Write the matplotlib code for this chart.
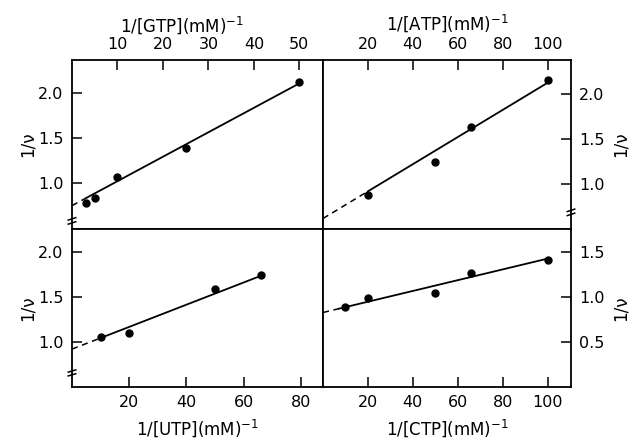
import matplotlib
matplotlib.use("Agg")
import matplotlib.pyplot as plt
import matplotlib.transforms as mtransforms
import numpy as np

plt.rcParams['font.family'] = ['DejaVu Sans']
plt.rcParams['mathtext.default'] = 'regular'

# reciprocal substrate concentration (mM^-1) and reciprocal velocity
gtp_x = [3, 5, 10, 25, 50]
gtp_y = [0.78, 0.83, 1.07, 1.39, 2.12]
atp_x = [20, 50, 66, 100]
atp_y = [0.88, 1.25, 1.64, 2.16]
utp_x = [10, 20, 50, 66]
utp_y = [1.05, 1.10, 1.585, 1.74]
ctp_x = [10, 20, 50, 66, 100]
ctp_y = [0.89, 0.99, 1.05, 1.27, 1.41]

# fitted lines: intercept, slope, start/end of the solid part
gtp_fit = (0.75, 0.0272, 3, 50)
atp_fit = (0.617, 0.0151, 20, 100)
utp_fit = (0.92, 0.0123, 10, 66)
ctp_fit = (0.83, 0.006, 7, 100)

W, H = 634, 441
fig = plt.figure(figsize=(W / 100, H / 100), dpi=100)


def box(x0, y0, x1, y1):
    return [x0 / W, 1 - y1 / H, (x1 - x0) / W, (y1 - y0) / H]


ax_g = fig.add_axes(box(72, 60, 323, 229))
ax_a = fig.add_axes(box(323, 60, 571, 229))
ax_u = fig.add_axes(box(72, 229, 323, 387))
ax_c = fig.add_axes(box(323, 229, 571, 387))

panels = [
    (ax_g, gtp_x, gtp_y, gtp_fit, (0, 55.2), (0.49, 2.37), [10, 20, 30, 40, 50], [1.0, 1.5, 2.0], 'GTP', 'top', 'left', 0.58),
    (ax_a, atp_x, atp_y, atp_fit, (0, 110.4), (0.50, 2.38), [20, 40, 60, 80, 100], [1.0, 1.5, 2.0], 'ATP', 'top', 'right', 0.685),
    (ax_u, utp_x, utp_y, utp_fit, (0, 87.7), (0.50, 2.25), [20, 40, 60, 80], [1.0, 1.5, 2.0], 'UTP', 'bottom', 'left', 0.656),
    (ax_c, ctp_x, ctp_y, ctp_fit, (0, 110.4), (0.0, 1.76), [20, 40, 60, 80, 100], [0.5, 1.0, 1.5], 'CTP', 'bottom', 'right', None),
]

for ax, xs, ys, fit, xl, yl, xt, yt, name, xside, yside, brk in panels:
    b0, m, s0, s1 = fit
    xd = np.array([0, s0])
    xs_ = np.array([s0, s1])
    ax.plot(xd, b0 + m * xd, color='black', lw=1.1, ls=(0, (4, 3)))
    ax.plot(xs_, b0 + m * xs_, color='black', lw=1.3)
    ax.plot(xs, ys, 'o', color='black', ms=5)
    ax.set_xlim(*xl)
    ax.set_ylim(*yl)
    ax.set_xticks(xt)
    ax.set_yticks(yt)
    ax.set_yticklabels([f'{v:.1f}' for v in yt])
    for sp in ax.spines.values():
        sp.set_linewidth(1.3)
    ax.tick_params(direction='in', length=7, width=1.1, labelsize=11.5, pad=6,
                   top=(xside == 'top'), bottom=(xside == 'bottom'),
                   labeltop=(xside == 'top'), labelbottom=(xside == 'bottom'),
                   left=(yside == 'left'), right=(yside == 'right'),
                   labelleft=(yside == 'left'), labelright=(yside == 'right'))
    ax.xaxis.set_label_position(xside)
    ax.yaxis.set_label_position(yside)
    ax.set_xlabel(f'1/[{name}](mM)$^{{-1}}$', fontsize=12, labelpad=5)
    ax.set_ylabel('1/ν', fontsize=12, labelpad=(1 if yside == 'left' else 5))
    if brk is not None:
        # axis-break marks on the value axis
        tr = mtransforms.blended_transform_factory(ax.transAxes, ax.transData)
        xa = 0.0 if yside == 'left' else 1.0
        span = (yl[1] - yl[0]) * 0.012
        for off in (-span, span):
            ax.plot([xa - 0.015, xa + 0.015], [brk + off - span * 0.6, brk + off + span * 0.6],
                    color='black', lw=1.1, transform=tr, clip_on=False)

ax_g.xaxis.set_label_coords(0.44, 1.17)

fig.savefig('out.png', dpi=100)
